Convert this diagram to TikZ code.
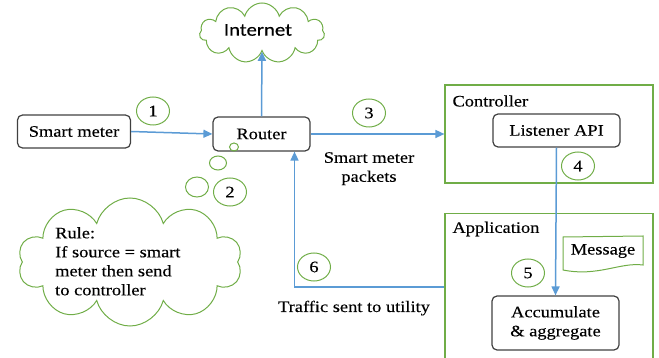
\documentclass[tikz,border=0pt]{standalone}
\usepackage{fontspec}
\setmainfont[FakeStretch=1.15,FakeBold=0.2]{Liberation Serif}
\newfontfamily\inetfont[FakeStretch=1.15,FakeBold=0.15]{Carlito}
\usetikzlibrary{shapes.symbols,shapes.geometric,arrows.meta}
\definecolor{arrowblue}{RGB}{91,155,213}
\definecolor{lgreen}{RGB}{112,173,71}
\definecolor{boxgray}{RGB}{64,64,64}
\begin{document}
\begin{tikzpicture}[x=1pt,y=-1pt,
 every node/.style={font=\fontsize{16}{19}\selectfont, text=black},
 box/.style={draw=boxgray, line width=1.2pt, rounded corners=5pt, inner sep=0pt},
 grp/.style={draw=lgreen, line width=1.2pt, inner sep=0pt},
 num/.style={ellipse, draw=lgreen, line width=1pt, minimum width=33pt, minimum height=28pt, inner sep=0pt},
 bub/.style={ellipse, draw=lgreen, line width=1pt, inner sep=0pt},
 flow/.style={draw=arrowblue, line width=1.5pt, -{Triangle[length=9pt,width=8pt]}},
 cld/.style={cloud, draw=lgreen, line width=1pt, cloud puffs=11, inner sep=0pt, aspect=2}
]
\useasboundingbox (0,0) rectangle (659,358);
% boxes
\node[box, minimum width=113pt, minimum height=33pt] (smart) at (74,131.5) {Smart meter};
\node[box, minimum width=97pt, minimum height=34pt] (router) at (261.5,134) {Router};
\node[cld, minimum width=125pt, minimum height=60pt] (inet) at (262,33) {};
\node[font=\inetfont\fontsize{18}{20}\selectfont] (inettext) at (258,30) {Internet};
\node[grp, minimum width=208pt, minimum height=98pt] (ctrl) at (549,134) {};
\node[anchor=west] (ctrllabel) at (449,101) {Controller};
\node[box, minimum width=127pt, minimum height=33pt] (listener) at (556.5,130.5) {Listener API};
\node[grp, minimum width=208pt, minimum height=160pt, anchor=north] (app) at (549,213) {};
\node[anchor=west] (applabel) at (449,229) {Application};
\node[box, minimum width=127pt, minimum height=54pt, align=center] (acc) at (555.5,323) {Accumulate\\\& aggregate};
% message document
\draw[draw=lgreen, line width=1pt] (563,237) -- (643,236) -- (643,265) .. controls (620,262) and (598,277) .. (563,270) -- cycle;
\node (msg) at (603,251) {Message};
% rule cloud
\node[cld, cloud puffs=10, minimum width=224pt, minimum height=128pt] (rule) at (130,262) {};
\node[align=left, anchor=north west, inner sep=0pt] (ruletext) at (55,227) {Rule:\\If source = smart\\meter then send\\to controller};
% thought bubbles
\node[bub, minimum width=9pt, minimum height=8pt] (b1) at (234,147) {};
\node[bub, minimum width=17pt, minimum height=14pt] (b2) at (218,163) {};
\node[bub, minimum width=23pt, minimum height=20pt] (b3) at (197,187) {};
% step numbers
\node[num] (n1) at (153,111) {1};
\node[num] (n2) at (230,192) {2};
\node[num] (n3) at (369,113) {3};
\node[num] (n4) at (578,166) {4};
\node[num] (n5) at (528,273) {5};
\node[num] (n6) at (314,267) {6};
% labels
\node[align=center, anchor=north, inner sep=0pt] (pkt) at (369,152) {Smart meter\\packets};
\node[anchor=base, inner sep=0pt] (traffic) at (354,312) {Traffic sent to utility};
% connectors
\coordinate (y6) at (0,287);
\draw[flow] (smart.east) -- (router.west);
\draw[flow] (router.north) -- (inet.south);
\draw[flow] (router.east) -- (router.east -| ctrl.west);
\draw[flow] (listener.south) -- (acc.north);
\draw[flow] (app.west |- y6) -| ([xshift=33pt]router.south);
\end{tikzpicture}
\end{document}
